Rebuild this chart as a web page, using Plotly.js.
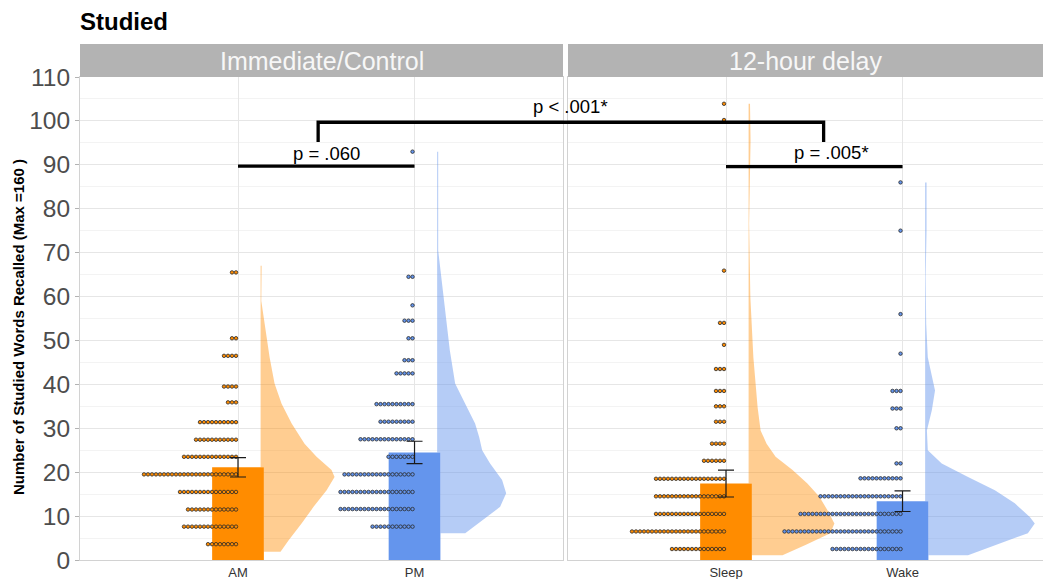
<!DOCTYPE html>
<html><head><meta charset="utf-8">
<script src="https://cdn.plot.ly/plotly-3.0.1.min.js"></script>
<style>html,body{margin:0;padding:0;background:#fff;} #chart{width:1043px;height:579px;}</style>
</head><body><div id="chart"></div>
<script>
// ---------------- data ----------------
const panelLabels = ['Immediate/Control', '12-hour delay'];
const leftCategories = ['AM', 'PM'];
const rightCategories = ['Sleep', 'Wake'];
const leftMeans = [21.1, 24.5];
const leftSE = [2.2, 2.55];
const rightMeans = [17.4, 13.4];
const rightSE = [3.05, 2.35];
const yTickValues = [0, 10, 20, 30, 40, 50, 60, 70, 80, 90, 100, 110];
const yMinorTicks = [5, 15, 25, 35, 45, 55, 65, 75, 85, 95, 105];

// dot-plot rows (binned value, number of dots)
const amLevels = [3.6, 7.6, 11.5, 15.5, 19.5, 23.5, 27.4, 31.4, 35.9, 39.5, 46.5, 50.5, 65.5];
const amCounts = [8, 14, 13, 15, 24, 14, 11, 10, 3, 4, 4, 2, 2];
const pmLevels = [7.6, 11.6, 15.5, 19.5, 23.5, 27.5, 31.5, 35.5, 42.5, 45.5, 50.5, 54.5, 58.0, 64.5, 93.0];
const pmCounts = [11, 19, 19, 18, 7, 14, 9, 10, 5, 3, 2, 3, 1, 2, 1];
const sleepLevels = [2.5, 6.5, 10.5, 14.5, 18.5, 22.6, 26.5, 31.5, 35.0, 38.5, 43.5, 49.0, 54.0, 65.9, 100.2, 103.9];
const sleepCounts = [14, 24, 18, 18, 18, 6, 4, 3, 3, 3, 3, 1, 2, 1, 1, 1];
const wakeLevels = [2.5, 6.5, 10.5, 14.5, 18.6, 22.0, 30.0, 34.5, 38.5, 47.0, 56.0, 75.0, 86.0];
const wakeCounts = [18, 30, 26, 21, 11, 2, 2, 3, 3, 1, 1, 1, 1];

// half-violin outlines: value, half-width (x-axis units)
const amViolinY = [1.9, 4.5, 8.3, 12.1, 15.9, 18.9, 20.5, 23.5, 26.5, 31.1, 35.6, 40.2, 46.2, 51.5, 59.0, 67.0];
const amViolinW = [0.113, 0.159, 0.232, 0.300, 0.374, 0.419, 0.402, 0.317, 0.249, 0.176, 0.119, 0.079, 0.051, 0.032, 0.004, 0.006];
const pmViolinY = [6.1, 9.1, 12.1, 15.2, 18.2, 22.0, 25.0, 28.0, 31.1, 35.6, 40.2, 47.7, 55.3, 62.9, 70.5, 93.0];
const pmViolinW = [0.159, 0.255, 0.357, 0.391, 0.368, 0.300, 0.255, 0.238, 0.215, 0.159, 0.102, 0.072, 0.051, 0.028, 0.006, 0.006];
const sleepViolinY = [1.1, 3.4, 6.1, 8.3, 11.4, 14.4, 17.4, 20.5, 23.5, 26.5, 29.5, 34.8, 46.2, 59.8, 76.6, 95.5, 103.9];
const sleepViolinW = [0.192, 0.322, 0.463, 0.486, 0.446, 0.401, 0.333, 0.249, 0.153, 0.102, 0.068, 0.051, 0.027, 0.010, 0.003, 0.011, 0.008];
const wakeViolinY = [1.1, 3.4, 6.1, 8.3, 9.8, 12.9, 15.9, 18.9, 22.0, 25.0, 29.5, 34.1, 38.6, 46.2, 53.8, 64.4, 75.0, 86.0];
const wakeViolinW = [0.243, 0.395, 0.582, 0.621, 0.593, 0.508, 0.395, 0.243, 0.094, 0.015, 0.010, 0.038, 0.056, 0.015, 0.006, 0.003, 0.008, 0.008];

// ---------------- styling / geometry ----------------
const W = 1043, H = 579;
const M = {l: 80, r: 0, t: 77, b: 19};
const plotW = W - M.l - M.r, plotH = H - M.t - M.b;
const dom1 = [0, 483 / plotW];
const dom2 = [488 / plotW, 1];
const xr1 = [0.105, 2.841];
const pxPerUnit = (dom1[1] - dom1[0]) * plotW / (xr1[1] - xr1[0]);
const xr2 = [0.105, 0.105 + (dom2[1] - dom2[0]) * plotW / pxPerUnit];
const yr = [0, 110];
const ORANGE = '#FF8C00', BLUE = '#6495ED';
const ORANGE_V = 'rgba(255,140,0,0.43)', BLUE_V = 'rgba(100,149,237,0.48)';
const BAR_W = 0.293, VIOLIN_OFFSET = 0.128, DOT_PX = 4.0;
const dotStep = DOT_PX / pxPerUnit;
const FONT = 'Liberation Sans, Arial, Helvetica, sans-serif';

function toPaper(v, dom, r) { return dom[0] + (v - r[0]) / (r[1] - r[0]) * (dom[1] - dom[0]); }

function violinTrace(cat, ys, ws, barTop, color, xa, ya) {
  const base = cat + VIOLIN_OFFSET, edge = cat + BAR_W / 2;
  const xs = [], yv = [];
  for (let i = 0; i < ys.length; i++) { xs.push(base + ws[i]); yv.push(ys[i]); }
  xs.push(base); yv.push(ys[ys.length - 1]);
  if (barTop > ys[0]) {
    xs.push(base); yv.push(barTop);
    xs.push(edge); yv.push(barTop);
    xs.push(edge); yv.push(ys[0]);
  } else { xs.push(base); yv.push(ys[0]); }
  xs.push(xs[0]); yv.push(yv[0]);
  return {type: 'scatter', mode: 'lines', x: xs, y: yv, fill: 'toself', fillcolor: color,
          line: {width: 0, color: color}, xaxis: xa, yaxis: ya, hoverinfo: 'skip'};
}

function dotTrace(cat, levels, counts, color, xa, ya) {
  const xs = [], ys = [];
  levels.forEach((lv, k) => {
    for (let i = 0; i < counts[k]; i++) { xs.push(cat - (i + 0.5) * dotStep); ys.push(lv); }
  });
  return {type: 'scatter', mode: 'markers', x: xs, y: ys, xaxis: xa, yaxis: ya, cliponaxis: false,
          marker: {size: 3.5, color: color, line: {width: 0.8, color: '#2a2a2a'}}, hoverinfo: 'skip'};
}

function barTrace(means, xa, ya) {
  return {type: 'bar', x: [1, 2], y: means, width: BAR_W, xaxis: xa, yaxis: ya,
          marker: {color: [ORANGE, BLUE], line: {width: 0}}, hoverinfo: 'skip'};
}
function errTrace(means, se, xa, ya) {
  return {type: 'scatter', mode: 'markers', x: [1, 2], y: means, xaxis: xa, yaxis: ya,
          marker: {size: 1, opacity: 0},
          error_y: {type: 'data', array: se, visible: true, color: '#1a1a1a', thickness: 1.2, width: 8},
          hoverinfo: 'skip'};
}

const traces = [
  violinTrace(1, amViolinY, amViolinW, leftMeans[0], ORANGE_V, 'x', 'y'),
  violinTrace(2, pmViolinY, pmViolinW, leftMeans[1], BLUE_V, 'x', 'y'),
  violinTrace(1, sleepViolinY, sleepViolinW, rightMeans[0], ORANGE_V, 'x2', 'y2'),
  violinTrace(2, wakeViolinY, wakeViolinW, rightMeans[1], BLUE_V, 'x2', 'y2'),
  barTrace(leftMeans, 'x', 'y'),
  barTrace(rightMeans, 'x2', 'y2'),
  dotTrace(1, amLevels, amCounts, ORANGE, 'x', 'y'),
  dotTrace(2, pmLevels, pmCounts, BLUE, 'x', 'y'),
  dotTrace(1, sleepLevels, sleepCounts, ORANGE, 'x2', 'y2'),
  dotTrace(2, wakeLevels, wakeCounts, BLUE, 'x2', 'y2'),
  errTrace(leftMeans, leftSE, 'x', 'y'),
  errTrace(rightMeans, rightSE, 'x2', 'y2')
];

const gridMajor = '#E6E6E6', gridMinor = '#F3F3F3', borderCol = '#D2D2D2';
function xAxis(dom, range, labels, anchor) {
  return {domain: dom, range: range, anchor: anchor, tickmode: 'array', tickvals: [1, 2], ticktext: labels,
          showgrid: true, gridcolor: gridMajor, gridwidth: 1, zeroline: false,
          showline: true, mirror: true, linecolor: borderCol, linewidth: 1,
          ticks: '', ticklabelstandoff: 0,
          tickfont: {family: FONT, size: 13, color: '#333333'}, fixedrange: true};
}
function yAxis(anchor, labels) {
  return {domain: [0, 1], range: yr, anchor: anchor, tickmode: 'array', tickvals: yTickValues,
          showticklabels: labels, showgrid: true, gridcolor: gridMajor, gridwidth: 1, zeroline: false,
          minor: {tickmode: 'array', tickvals: yMinorTicks, showgrid: true, gridcolor: gridMinor, gridwidth: 1, ticks: ''},
          showline: true, mirror: true, linecolor: borderCol, linewidth: 1,
          ticks: labels ? 'outside' : '', ticklen: 4, tickcolor: '#B3B3B3',
          tickfont: {family: FONT, size: 24.5, color: '#4D4D4D'}, fixedrange: true};
}

const stripTop = (H - M.b - 44) / plotH;
const stripMid = (H - M.b - 60.5) / plotH;

const pLeft = toPaper(1.454, dom1, xr1);
const pRight = toPaper(1.553, dom2, xr2);

const shapes = [
  {type: 'rect', xref: 'paper', yref: 'paper', x0: dom1[0], x1: dom1[1], y0: 1, y1: stripTop, fillcolor: '#B3B3B3', line: {width: 0}},
  {type: 'rect', xref: 'paper', yref: 'paper', x0: dom2[0], x1: dom2[1], y0: 1, y1: stripTop, fillcolor: '#B3B3B3', line: {width: 0}},
  {type: 'line', xref: 'x', yref: 'y', x0: 1, x1: 2, y0: 89.7, y1: 89.7, line: {color: '#000', width: 3.3}},
  {type: 'line', xref: 'x2', yref: 'y2', x0: 1, x1: 2, y0: 89.6, y1: 89.6, line: {color: '#000', width: 3.3}},
  {type: 'path', xref: 'paper', yref: 'y',
   path: `M ${pLeft},95.2 L ${pLeft},99.7 L ${pRight},99.7 L ${pRight},95.2`, line: {color: '#000', width: 3.3}}
];

const annotations = [
  {text: panelLabels[0], xref: 'paper', yref: 'paper', x: (dom1[0] + dom1[1]) / 2, y: stripMid, xanchor: 'center', yanchor: 'middle', showarrow: false,
   font: {family: FONT, size: 25, color: '#F7F7F7'}},
  {text: panelLabels[1], xref: 'paper', yref: 'paper', x: (dom2[0] + dom2[1]) / 2, y: stripMid, xanchor: 'center', yanchor: 'middle', showarrow: false,
   font: {family: FONT, size: 25, color: '#F7F7F7'}},
  {text: '<b>Number of Studied Words Recalled (Max =160 )</b>', xref: 'paper', yref: 'paper',
   x: (18 - M.l) / plotW, y: (H - M.b - 327) / plotH, textangle: -90, xanchor: 'center', yanchor: 'middle', showarrow: false,
   font: {family: FONT, size: 15, color: '#000'}},
  {text: 'p = .060', xref: 'x', yref: 'y', x: 1.5, y: 92.6, xanchor: 'center', yanchor: 'middle', showarrow: false,
   font: {family: FONT, size: 18.5, color: '#000'}},
  {text: 'p < .001*', xref: 'paper', yref: 'y', x: (pLeft + pRight) / 2, y: 103.3, xanchor: 'center', yanchor: 'middle', showarrow: false,
   font: {family: FONT, size: 18.5, color: '#000'}},
  {text: 'p = .005*', xref: 'x2', yref: 'y2', x: 1.597, y: 92.8, xanchor: 'center', yanchor: 'middle', showarrow: false,
   font: {family: FONT, size: 18.5, color: '#000'}}
];

const layout = {
  width: W, height: H, margin: M, paper_bgcolor: '#FFFFFF', plot_bgcolor: '#FFFFFF',
  showlegend: false, hovermode: false, barmode: 'overlay',
  font: {family: FONT},
  title: {text: '<b>Studied</b>', xref: 'paper', x: 0, xanchor: 'left', yref: 'container', y: 1 - 22 / H, yanchor: 'middle',
          font: {family: FONT, size: 24, color: '#000'}},
  xaxis: xAxis(dom1, xr1, leftCategories, 'y'),
  yaxis: yAxis('x', true),
  xaxis2: xAxis(dom2, xr2, rightCategories, 'y2'),
  yaxis2: Object.assign(yAxis('x2', false), {matches: 'y'}),
  shapes: shapes, annotations: annotations
};

Plotly.newPlot('chart', traces, layout, {displayModeBar: false, staticPlot: true});
</script>
</body></html>
